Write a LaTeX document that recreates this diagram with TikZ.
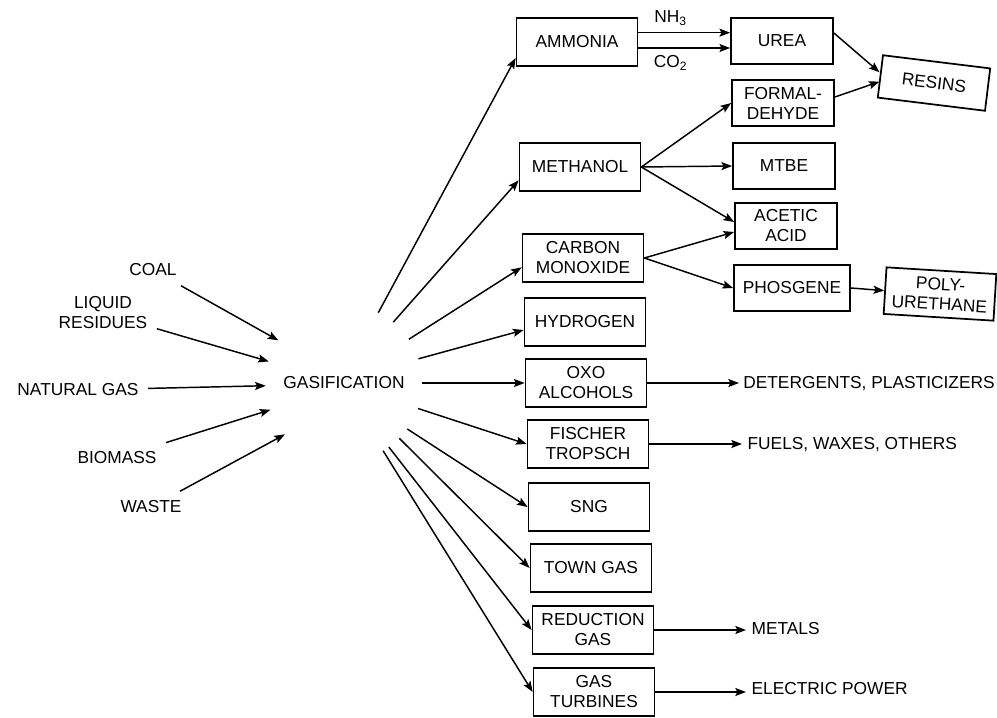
\documentclass[tikz,border=0pt]{standalone}
\usepackage{fontspec}
\setmainfont{Liberation Sans}
\usetikzlibrary{arrows.meta}

\begin{document}
\begin{tikzpicture}[x=0.75pt,y=-0.75pt,
    every node/.style={font=\fontsize{13pt}{15pt}\selectfont,align=center,inner sep=4pt},
    feed/.style={inner sep=7pt},
    unitbox/.style={draw,line width=1.3pt,minimum width=90.75pt,minimum height=36pt},
    prodbox/.style={draw,line width=1.3pt,minimum width=76.5pt,minimum height=34.5pt},
    flow/.style={line width=1.1pt,-{Stealth[length=8pt,width=6pt,inset=1.5pt]}}]
  \useasboundingbox (0,0) rectangle (997,718);

  %% Feedstocks
  \node[feed] (coal)    at (153,270) {COAL};
  \node[feed] (liquid)  at (103,313) {LIQUID\\RESIDUES};
  \node[feed] (natgas)  at (78,390)  {NATURAL GAS};
  \node[feed] (biomass) at (117,458) {BIOMASS};
  \node[feed] (waste)   at (151,507) {WASTE};
  \node[circle,minimum size=117pt] (gasif) at (344,383) {GASIFICATION};

  \foreach \src/\ang in {coal/147, liquid/164, natgas/182, biomass/200, waste/221}
    \draw[flow] (\src) -- (gasif.\ang);

  %% Syngas routes
  \node[unitbox] (ammonia)   at (577,42)  {AMMONIA};
  \node[unitbox] (methanol)  at (580,167) {METHANOL};
  \node[unitbox] (carbon)    at (583,258) {CARBON\\MONOXIDE};
  \node[unitbox] (hydrogen)  at (585,322) {HYDROGEN};
  \node[unitbox] (oxo)       at (586,383) {OXO\\ALCOHOLS};
  \node[unitbox] (fischer)   at (588,444) {FISCHER\\TROPSCH};
  \node[unitbox] (sng)       at (589,507) {SNG};
  \node[unitbox] (towngas)   at (591,568) {TOWN GAS};
  \node[unitbox] (reduction) at (593,630) {REDUCTION\\GAS};
  \node[unitbox] (turbines)  at (594,692) {GAS\\TURBINES};

  \foreach \ang/\dst/\dy in {64/ammonia/-12pt, 51/methanol/-10pt, 34/carbon/-7pt,
      18/hydrogen/-6pt, 0/oxo/0pt, -19/fischer/0pt, -36/sng/0pt,
      -45/towngas/0pt, -55/reduction/0pt, -60/turbines/0pt}
    \draw[flow] (gasif.\ang) -- ([yshift=\dy]\dst.west);

  %% Chemicals
  \node[prodbox] (urea)     at (782,41)  {UREA};
  \node[prodbox] (formal)   at (783,103) {FORMAL-\\DEHYDE};
  \node[prodbox] (mtbe)     at (784,166) {MTBE};
  \node[prodbox] (acetic)   at (786,226) {ACETIC\\ACID};
  \node[prodbox,minimum width=87pt] (phosgene) at (792,288) {PHOSGENE};
  \node[draw,line width=1.3pt,minimum width=81pt,minimum height=32pt,rotate=-7]
    (resins) at (934,83) {RESINS};
  \node[draw,line width=1.3pt,minimum width=82.5pt,minimum height=35pt,rotate=-3.5]
    (poly) at (940,294) {POLY-\\URETHANE};

  \draw[flow] ([yshift=7pt]ammonia.east) -- ([yshift=7pt]ammonia.east -| urea.west)
    node[pos=0.35,above=1pt] {NH\textsubscript{3}};
  \draw[flow] ([yshift=-4.5pt]ammonia.east) -- ([yshift=-4.5pt]ammonia.east -| urea.west)
    node[pos=0.35,below=1pt] {CO\textsubscript{2}};
  \draw[flow] ([yshift=6pt]urea.east) -- ([yshift=3pt]resins.west);
  \draw[flow] ([yshift=4.5pt]formal.east) -- ([yshift=-4pt]resins.west);
  \draw[flow] (methanol.east) -- (formal.west);
  \draw[flow] (methanol.east) -- (mtbe.west);
  \draw[flow] (methanol.east) -- ([yshift=3pt]acetic.west);
  \draw[flow] (carbon.east) -- ([yshift=-4.5pt]acetic.west);
  \draw[flow] (carbon.east) -- (phosgene.west);
  \draw[flow] (phosgene.east) -- (poly.west);

  %% End uses
  \node[anchor=west,inner sep=3pt] (deterg)   at (739,384) {DETERGENTS, PLASTICIZERS};
  \node[anchor=west] (fuels)    at (742,445) {FUELS, WAXES, OTHERS};
  \node[anchor=west] (metals)   at (746,629) {METALS};
  \node[anchor=west] (electric) at (746,689) {ELECTRIC POWER};

  \draw[flow] (oxo.east) -- (oxo.east -| deterg.west);
  \draw[flow] (fischer.east) -- (fischer.east -| fuels.west);
  \draw[flow] (reduction.east) -- (reduction.east -| metals.west);
  \draw[flow] (turbines.east) -- (turbines.east -| electric.west);
\end{tikzpicture}
\end{document}
